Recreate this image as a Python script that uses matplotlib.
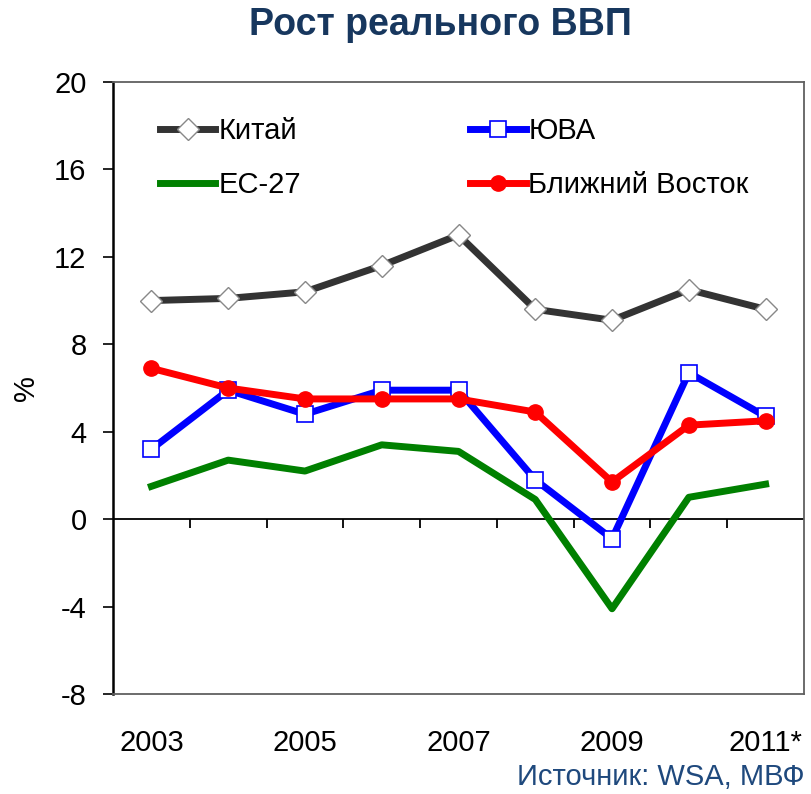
import matplotlib
matplotlib.use("Agg")
import matplotlib.pyplot as plt
import numpy as np

plt.rcParams['font.family'] = ['Liberation Sans', 'DejaVu Sans']

years = ['2003', '2004', '2005', '2006', '2007', '2008', '2009', '2010', '2011*']
china = [10.0, 10.1, 10.4, 11.6, 13.0, 9.6, 9.1, 10.5, 9.6]
sea = [3.2, 5.9, 4.8, 5.9, 5.9, 1.8, -0.9, 6.7, 4.7]
eu27 = [1.5, 2.7, 2.2, 3.4, 3.1, 0.9, -4.1, 1.0, 1.6]
mideast = [6.9, 6.0, 5.5, 5.5, 5.5, 4.9, 1.7, 4.3, 4.5]
yticks = [-8, -4, 0, 4, 8, 12, 16, 20]

fig = plt.figure(figsize=(8.11, 7.94), dpi=100)
ax = fig.add_axes([113 / 811, 1 - 694 / 794, 691 / 811, 612 / 794])

x = np.arange(len(years))
l_china, = ax.plot(x, china, color='#333333', lw=5, marker='D', ms=11,
                   mfc='white', mec='#888888', mew=1, label='Китай', zorder=4)
l_sea, = ax.plot(x, sea, color='#0000FF', lw=5, marker='s', ms=12,
                 mfc='white', mec='#0000FF', mew=1.2, label='ЮВА', zorder=3)
l_eu, = ax.plot(x, eu27, color='#008000', lw=5, label='ЕС-27', zorder=2)
l_me, = ax.plot(x, mideast, color='#FF0000', lw=5, marker='o', ms=11,
                mfc='#FF0000', mec='#FF0000', label='Ближний Восток', zorder=5)

ax.set_xlim(-0.5, len(years) - 0.5)
ax.set_ylim(-8, 20)
ax.set_yticks(yticks)
ax.set_yticklabels([str(v) for v in yticks], fontsize=21)
ax.tick_params(axis='y', direction='out', length=7, width=1.2, pad=12)

# category labels below plot (every other year)
ax.set_xticks(x[::2])
ax.set_xticklabels(years[::2], fontsize=21)
ax.tick_params(axis='x', length=0, pad=25)

# zero line with category separator ticks
ax.axhline(0, color='black', lw=1.3, zorder=1)
ax.vlines(x[:-1] + 0.5, -0.4, 0, color='black', lw=1.3)

for s in ['top', 'right', 'bottom']:
    ax.spines[s].set_color('#606060')
    ax.spines[s].set_linewidth(1.3)
ax.spines['left'].set_color('black')
ax.spines['left'].set_linewidth(1.8)

ax.set_ylabel('%', fontsize=21, labelpad=10)

ax.legend(handles=[l_china, l_eu, l_sea, l_me], ncol=2, loc='upper left',
          bbox_to_anchor=(0.068, 0.942), frameon=False, fontsize=21,
          handlelength=1.9, handletextpad=0.1, columnspacing=5.8,
          labelspacing=0.88, borderaxespad=0, borderpad=0)

fig.text(0.543, 0.968, 'Рост реального ВВП', ha='center', va='center',
         fontsize=27, fontweight='bold', color='#17375E')
fig.text(0.992, 0.004, 'Источник: WSA, МВФ', ha='right', va='bottom',
         fontsize=21, color='#1F497D')

fig.savefig('out.png', dpi=100)
